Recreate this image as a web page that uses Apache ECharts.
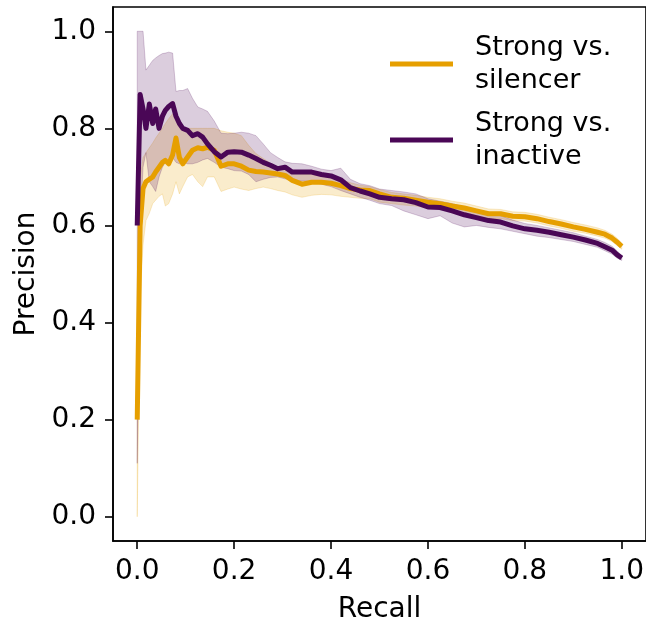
<!DOCTYPE html>
<html>
<head>
<meta charset="utf-8">
<script src="https://cdn.jsdelivr.net/npm/echarts@6/dist/echarts.min.js"></script>
<style>
html,body{margin:0;padding:0;background:#fff;}
#chart{width:646px;height:624px;}
</style>
</head>
<body>
<div id="chart"></div>
<script>
// ---- data ----
const recall = [0, 0.006, 0.012, 0.018, 0.025, 0.032, 0.038, 0.045, 0.052, 0.058, 0.065, 0.073, 0.08, 0.087, 0.094, 0.104, 0.114, 0.125, 0.135, 0.145, 0.159, 0.173, 0.187, 0.2, 0.215, 0.23, 0.245, 0.26, 0.275, 0.29, 0.305, 0.32, 0.34, 0.36, 0.38, 0.4, 0.42, 0.44, 0.46, 0.48, 0.5, 0.525, 0.55, 0.575, 0.6, 0.625, 0.65, 0.675, 0.7, 0.725, 0.75, 0.775, 0.8, 0.825, 0.85, 0.875, 0.9, 0.925, 0.95, 0.965, 0.98, 0.99, 1.0];

const inactiveMean = [0.60, 0.87, 0.84, 0.80, 0.85, 0.81, 0.84, 0.80, 0.825, 0.837, 0.845, 0.851, 0.825, 0.81, 0.80, 0.796, 0.785, 0.789, 0.782, 0.768, 0.752, 0.741, 0.751, 0.752, 0.751, 0.745, 0.738, 0.730, 0.724, 0.717, 0.720, 0.710, 0.710, 0.710, 0.705, 0.702, 0.694, 0.678, 0.671, 0.665, 0.658, 0.655, 0.653, 0.647, 0.638, 0.637, 0.630, 0.622, 0.616, 0.610, 0.607, 0.599, 0.593, 0.590, 0.586, 0.581, 0.576, 0.570, 0.563, 0.556, 0.549, 0.540, 0.533];
const inactiveUpper = [1.0, 1.0, 1.0, 0.92, 0.93, 0.94, 0.945, 0.95, 0.954, 0.955, 0.957, 0.955, 0.876, 0.878, 0.878, 0.882, 0.862, 0.844, 0.84, 0.835, 0.815, 0.79, 0.789, 0.79, 0.792, 0.79, 0.785, 0.768, 0.75, 0.74, 0.731, 0.728, 0.727, 0.722, 0.716, 0.713, 0.718, 0.695, 0.686, 0.682, 0.675, 0.672, 0.669, 0.665, 0.655, 0.650, 0.645, 0.638, 0.630, 0.624, 0.620, 0.611, 0.604, 0.600, 0.595, 0.590, 0.585, 0.578, 0.571, 0.565, 0.557, 0.548, 0.538];
const inactiveLower = [0.11, 0.60, 0.72, 0.75, 0.69, 0.68, 0.67, 0.70, 0.72, 0.73, 0.735, 0.74, 0.73, 0.727, 0.73, 0.727, 0.727, 0.73, 0.735, 0.738, 0.73, 0.72, 0.717, 0.713, 0.712, 0.705, 0.69, 0.695, 0.699, 0.70, 0.696, 0.694, 0.692, 0.69, 0.685, 0.68, 0.672, 0.665, 0.658, 0.652, 0.645, 0.641, 0.630, 0.622, 0.614, 0.620, 0.605, 0.597, 0.600, 0.596, 0.593, 0.588, 0.583, 0.578, 0.575, 0.571, 0.567, 0.561, 0.555, 0.548, 0.541, 0.533, 0.528];

const silencerMean = [0.20, 0.60, 0.676, 0.69, 0.695, 0.70, 0.71, 0.72, 0.73, 0.734, 0.727, 0.745, 0.780, 0.74, 0.727, 0.741, 0.755, 0.760, 0.758, 0.761, 0.755, 0.722, 0.727, 0.727, 0.722, 0.714, 0.711, 0.710, 0.708, 0.706, 0.703, 0.693, 0.685, 0.689, 0.689, 0.687, 0.682, 0.676, 0.673, 0.672, 0.665, 0.658, 0.656, 0.652, 0.648, 0.645, 0.640, 0.636, 0.630, 0.624, 0.624, 0.619, 0.618, 0.614, 0.608, 0.603, 0.597, 0.592, 0.586, 0.582, 0.574, 0.566, 0.557];
const silencerUpper = [0.40, 0.70, 0.74, 0.75, 0.76, 0.77, 0.78, 0.79, 0.80, 0.81, 0.82, 0.83, 0.83, 0.81, 0.80, 0.80, 0.80, 0.80, 0.80, 0.80, 0.80, 0.795, 0.792, 0.79, 0.785, 0.765, 0.748, 0.738, 0.728, 0.72, 0.717, 0.712, 0.705, 0.705, 0.703, 0.700, 0.695, 0.688, 0.683, 0.680, 0.674, 0.668, 0.665, 0.662, 0.658, 0.655, 0.650, 0.646, 0.640, 0.634, 0.633, 0.628, 0.627, 0.623, 0.617, 0.612, 0.606, 0.601, 0.595, 0.590, 0.582, 0.574, 0.563];
const silencerLower = [0.0, 0.45, 0.56, 0.61, 0.625, 0.645, 0.652, 0.66, 0.665, 0.64, 0.645, 0.665, 0.69, 0.665, 0.68, 0.70, 0.705, 0.69, 0.68, 0.70, 0.70, 0.67, 0.675, 0.679, 0.675, 0.672, 0.676, 0.679, 0.676, 0.672, 0.669, 0.663, 0.658, 0.662, 0.664, 0.663, 0.66, 0.658, 0.656, 0.655, 0.648, 0.645, 0.642, 0.640, 0.636, 0.634, 0.630, 0.626, 0.620, 0.615, 0.614, 0.610, 0.609, 0.605, 0.599, 0.594, 0.588, 0.584, 0.578, 0.574, 0.567, 0.559, 0.551];

const xTicks = [0, 0.2, 0.4, 0.6, 0.8, 1.0];
const yTicks = [0, 0.2, 0.4, 0.6, 0.8, 1.0];
const seriesNames = ['Strong vs.\nsilencer', 'Strong vs.\ninactive'];

// ---- chart ----
const ORANGE = '#E69F00';
const PURPLE = '#4A0756';
const FONT = 'DejaVu Sans';

function pairs(xs, ys) { return xs.map((x, i) => [x, ys[i]]); }

function band(lower, upper, fill) {
  return {
    type: 'custom',
    coordinateSystem: 'cartesian2d',
    silent: true,
    clip: true,
    z: 1,
    data: [[recall[0], lower[0]]],
    renderItem: function (params, api) {
      const pts = [];
      for (let i = 0; i < recall.length; i++) pts.push(api.coord([recall[i], upper[i]]));
      for (let i = recall.length - 1; i >= 0; i--) pts.push(api.coord([recall[i], lower[i]]));
      return {
        type: 'polygon',
        shape: { points: pts },
        style: { fill: fill, stroke: fill, lineWidth: 1 }
      };
    }
  };
}

const chart = echarts.init(document.getElementById('chart'), null, { renderer: 'canvas' });
const axisCommon = {
  axisLine: { show: true, onZero: false, lineStyle: { color: '#000', width: 1.6 } },
  axisTick: { show: true, inside: false, length: 8, lineStyle: { color: '#000', width: 1.6 } },
  splitLine: { show: false },
  nameTextStyle: { fontFamily: FONT, fontSize: 28, color: '#000' }
};

chart.setOption({
  animation: false,
  backgroundColor: '#fff',
  textStyle: { fontFamily: FONT },
  grid: { left: 113, top: 7, right: 0, bottom: 83, outerBoundsMode: 'none', containLabel: false, show: true, borderColor: '#000', borderWidth: 1.6, backgroundColor: 'transparent' },
  xAxis: Object.assign({}, axisCommon, {
    type: 'value', min: -0.05, max: 1.05,
    name: 'Recall', nameLocation: 'middle', nameGap: 55,
    axisTick: Object.assign({}, axisCommon.axisTick, { customValues: xTicks }),
    axisLabel: { customValues: xTicks, formatter: v => v.toFixed(1), fontFamily: FONT, fontSize: 28, color: '#000', margin: 17 }
  }),
  yAxis: Object.assign({}, axisCommon, {
    type: 'value', min: -0.05, max: 1.05,
    name: 'Precision', nameLocation: 'middle', nameGap: 51,
    axisTick: Object.assign({}, axisCommon.axisTick, { customValues: yTicks }),
    axisLabel: { customValues: yTicks, formatter: v => v.toFixed(1), fontFamily: FONT, fontSize: 28, color: '#000', margin: 17 }
  }),
  legend: {
    orient: 'vertical',
    left: 390, top: 31,
    padding: 0,
    itemGap: 10,
    itemWidth: 63, itemHeight: 5,
    icon: 'rect',
    data: seriesNames,
    textStyle: { fontFamily: FONT, fontSize: 27, color: '#000', lineHeight: 33, padding: [0, 0, 0, 17] }
  },
  series: [
    band(silencerLower, silencerUpper, 'rgba(230,159,0,0.2)'),
    band(inactiveLower, inactiveUpper, 'rgba(74,7,86,0.2)'),
    {
      name: seriesNames[0], type: 'line', z: 3, showSymbol: false, symbol: 'none',
      data: pairs(recall, silencerMean),
      itemStyle: { color: ORANGE },
      lineStyle: { color: ORANGE, width: 5, join: 'round' }
    },
    {
      name: seriesNames[1], type: 'line', z: 4, showSymbol: false, symbol: 'none',
      data: pairs(recall, inactiveMean),
      itemStyle: { color: PURPLE },
      lineStyle: { color: PURPLE, width: 5, join: 'round' }
    }
  ]
});
</script>
</body>
</html>
